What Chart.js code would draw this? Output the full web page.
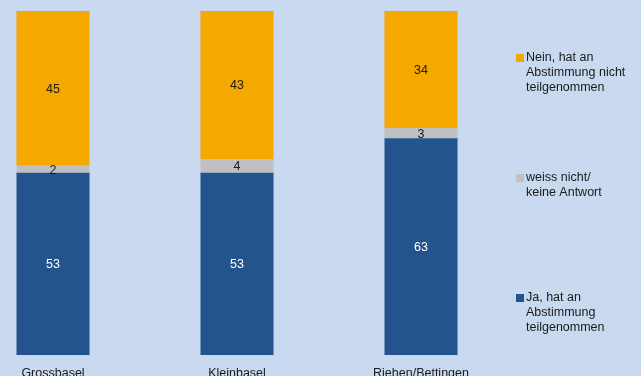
<!DOCTYPE html>
<html>
<head>
<meta charset="utf-8">
<script src="https://cdn.jsdelivr.net/npm/chart.js@4/dist/chart.umd.min.js"></script>
<style>
  html, body { margin: 0; padding: 0; background: #c9daf0; overflow: hidden; }
  #wrap { position: relative; width: 641px; height: 376px; overflow: hidden; }
  #chart { position: absolute; left: -39px; top: 0; }
</style>
</head>
<body>
<div id="wrap"><canvas id="chart" width="680" height="390"></canvas></div>
<script>
  const regions = ['Grossbasel', 'Kleinbasel', 'Riehen/Bettingen'];
  const jaValues = [53, 53, 63];
  const weissValues = [2, 4, 3];
  const neinValues = [45, 43, 34];
  const seriesNames = [
    'Ja, hat an\nAbstimmung\nteilgenommen',
    'weiss nicht/\nkeine Antwort',
    'Nein, hat an\nAbstimmung nicht\nteilgenommen'
  ];

  const FONT = '12.5px "Liberation Sans", Arial, sans-serif';
  const labelColors = ['#ffffff', '#1a1a1a', '#1a1a1a'];

  // values written in the middle of each segment
  const segmentLabels = {
    id: 'segmentLabels',
    afterDatasetsDraw(chart) {
      const ctx = chart.ctx;
      ctx.save();
      ctx.font = FONT;
      ctx.textAlign = 'center';
      ctx.textBaseline = 'middle';
      chart.data.datasets.forEach((ds, i) => {
        chart.getDatasetMeta(i).data.forEach((bar, j) => {
          const y = (bar.y + bar.base) / 2;
          ctx.fillStyle = labelColors[i];
          ctx.fillText(ds.data[j], bar.x, y + 1);
        });
      });
      ctx.restore();
    }
  };

  // legend on the right, top item = top segment
  const sideLegend = {
    id: 'sideLegend',
    afterDraw(chart) {
      const ctx = chart.ctx;
      const x = chart.chartArea.right + 3;
      ctx.save();
      ctx.font = FONT;
      ctx.textBaseline = 'middle';
      ctx.textAlign = 'left';
      const n = chart.data.datasets.length;
      for (let k = 0; k < n; k++) {
        const i = n - 1 - k;
        const ds = chart.data.datasets[i];
        const yTop = 58 + k * 120;
        ctx.fillStyle = ds.backgroundColor;
        ctx.fillRect(x, yTop - 4, 8, 8);
        ctx.fillStyle = '#1a1a1a';
        ds.label.split('\n').forEach((line, l) => {
          ctx.fillText(line, x + 10, yTop + l * 14.7);
        });
      }
      ctx.restore();
    }
  };

  new Chart(document.getElementById('chart').getContext('2d'), {
    type: 'bar',
    data: {
      labels: regions,
      datasets: [
        { label: seriesNames[0], data: jaValues, backgroundColor: '#23548e' },
        { label: seriesNames[1], data: weissValues, backgroundColor: '#c0c0c0' },
        { label: seriesNames[2], data: neinValues, backgroundColor: '#f5a800' }
      ]
    },
    options: {
      responsive: false,
      animation: false,
      devicePixelRatio: 1,
      layout: { padding: { left: 0, right: 128, top: 11, bottom: 11 } },
      datasets: { bar: { barPercentage: 1, categoryPercentage: 0.397, borderWidth: 0 } },
      plugins: { legend: { display: false }, tooltip: { enabled: false } },
      scales: {
        x: {
          stacked: true,
          grid: { display: false },
          border: { display: false },
          ticks: { color: '#1a1a1a', font: { family: '"Liberation Sans", Arial, sans-serif', size: 12.5 }, padding: 3, maxRotation: 0 },
          afterFit(scale) { scale.height = 24; }
        },
        y: { stacked: true, min: 0, max: 100, display: false }
      }
    },
    plugins: [segmentLabels, sideLegend]
  });
</script>
</body>
</html>
